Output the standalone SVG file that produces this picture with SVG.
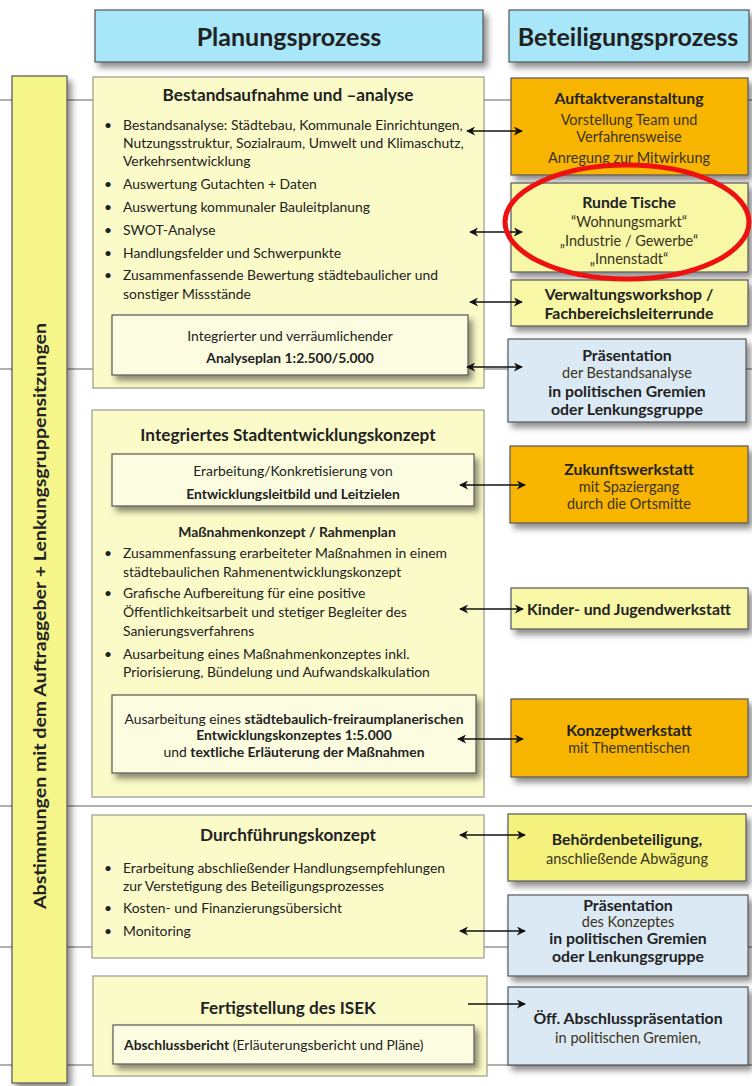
<svg xmlns="http://www.w3.org/2000/svg" width="752" height="1086" viewBox="0 0 752 1086">
<defs>
<filter id="sh" x="-10%" y="-10%" width="130%" height="140%">
<feDropShadow dx="4" dy="5" stdDeviation="3" flood-color="#000" flood-opacity="0.45"/>
</filter>
<marker id="ah" viewBox="0 0 10 10" refX="9" refY="5" markerWidth="9" markerHeight="9" markerUnits="userSpaceOnUse" orient="auto-start-reverse">
<path d="M0,0 L10,5 L0,10 L3,5 Z" fill="#111"/>
</marker>
<style>
text{font-family:Lato,"Open Sans","Liberation Sans",sans-serif;fill:#222}
.t{font-size:13.9px}
.c{text-anchor:middle}
.b{font-weight:bold}
.h{font-size:25px;font-weight:bold;text-anchor:middle}
.ti{font-size:17.2px;font-weight:bold;text-anchor:middle}
.rb{font-size:15.8px;font-weight:bold;text-anchor:middle}
.rs{font-size:14.5px;text-anchor:middle;fill:#3a3320}
.hdr{fill:#a8e6fa;stroke:#555;stroke-width:1.2}
.outer{fill:#fbfbc9;stroke:#9a9a8a;stroke-width:1.2}
.inner{fill:#fcfde0;stroke:#555;stroke-width:1.2}
.org{fill:#f8b500;stroke:#555;stroke-width:1.2}
.pyel{fill:#f7f7a6;stroke:#555;stroke-width:1.2}
.yel{fill:#f4f27c;stroke:#555;stroke-width:1.2}
.blu{fill:#dbe9f5;stroke:#555;stroke-width:1.2}
.gl{stroke:#b0b0b0;stroke-width:2}
.ar{stroke:#111;stroke-width:1.5;fill:none}
</style>
</defs>

<g id="guides">
<line class="gl" x1="0" y1="100" x2="752" y2="100"/>
<line class="gl" x1="0" y1="369" x2="752" y2="369"/>
<line class="gl" x1="0" y1="806" x2="752" y2="806"/>
<line class="gl" x1="0" y1="947" x2="752" y2="947"/>
<line class="gl" x1="0" y1="1065" x2="752" y2="1065"/>
</g>

<g id="hdr-planung">
<rect class="hdr" x="95" y="10" width="388" height="52" filter="url(#sh)"/>
<text class="h" x="289" y="46">Planungsprozess</text>
</g>
<g id="hdr-beteiligung">
<rect class="hdr" x="509" y="10" width="240" height="52" filter="url(#sh)"/>
<text class="h" x="628" y="46">Beteiligungsprozess</text>
</g>

<g id="left-bar">
<rect x="12" y="76" width="55" height="1007" fill="#f5f58a" stroke="#555" stroke-width="1.2" filter="url(#sh)"/>
<text transform="translate(46,616) rotate(-90)" text-anchor="middle" font-size="17" font-weight="bold" textLength="586" lengthAdjust="spacingAndGlyphs">Abstimmungen mit dem Auftraggeber + Lenkungsgruppensitzungen</text>
</g>

<g id="bestand">
<rect class="outer" x="93" y="77" width="391" height="311"/>
<text class="ti" x="288" y="101">Bestandsaufnahme und –analyse</text>
<g class="t">
<text x="104" y="130">•</text><text x="123" y="130">Bestandsanalyse: Städtebau, Kommunale Einrichtungen,</text>
<text x="123" y="148">Nutzungsstruktur, Sozialraum, Umwelt und Klimaschutz,</text>
<text x="123" y="166">Verkehrsentwicklung</text>
<text x="104" y="189">•</text><text x="123" y="189">Auswertung Gutachten + Daten</text>
<text x="104" y="212">•</text><text x="123" y="212">Auswertung kommunaler Bauleitplanung</text>
<text x="104" y="235">•</text><text x="123" y="235">SWOT-Analyse</text>
<text x="104" y="258">•</text><text x="123" y="258">Handlungsfelder und Schwerpunkte</text>
<text x="104" y="280">•</text><text x="123" y="280">Zusammenfassende Bewertung städtebaulicher und</text>
<text x="123" y="299">sonstiger Missstände</text>
</g>
</g>
<g id="analyseplan">
<rect class="inner" x="112" y="315" width="356" height="60" filter="url(#sh)"/>
<text class="t c" x="290" y="341">Integrierter und verräumlichender</text>
<text class="t c b" x="290" y="363">Analyseplan 1:2.500/5.000</text>
</g>

<g id="isek">
<rect class="outer" x="92" y="410" width="392" height="387"/>
<text class="ti" x="288" y="441">Integriertes Stadtentwicklungskonzept</text>
<text class="t c b" x="287" y="537">Maßnahmenkonzept / Rahmenplan</text>
<g class="t">
<text x="104" y="558">•</text><text x="123" y="558">Zusammenfassung erarbeiteter Maßnahmen in einem</text>
<text x="123" y="577">städtebaulichen Rahmenentwicklungskonzept</text>
<text x="104" y="598">•</text><text x="123" y="598">Grafische Aufbereitung für eine positive</text>
<text x="123" y="617">Öffentlichkeitsarbeit und stetiger Begleiter des</text>
<text x="123" y="636">Sanierungsverfahrens</text>
<text x="104" y="659">•</text><text x="123" y="659">Ausarbeitung eines Maßnahmenkonzeptes inkl.</text>
<text x="123" y="677">Priorisierung, Bündelung und Aufwandskalkulation</text>
</g>
</g>
<g id="leitbild">
<rect class="inner" x="112" y="454" width="362" height="52" filter="url(#sh)"/>
<text class="t c" x="293" y="476">Erarbeitung/Konkretisierung von</text>
<text class="t c b" x="293" y="499">Entwicklungsleitbild und Leitzielen</text>
</g>
<g id="entwicklungskonzept">
<rect class="inner" x="112" y="695" width="364" height="78" filter="url(#sh)"/>
<text class="t c" x="294" y="724">Ausarbeitung eines <tspan class="b">städtebaulich-freiraumplanerischen</tspan></text>
<text class="t c b" x="294" y="740">Entwicklungskonzeptes 1:5.000</text>
<text class="t c" x="294" y="757">und <tspan class="b">textliche Erläuterung der Maßnahmen</tspan></text>
</g>

<g id="durchfuehrung">
<rect class="outer" x="92" y="815" width="392" height="143"/>
<text class="ti" x="288" y="841">Durchführungskonzept</text>
<g class="t">
<text x="104" y="873">•</text><text x="123" y="873">Erarbeitung abschließender Handlungsempfehlungen</text>
<text x="123" y="891">zur Verstetigung des Beteiligungsprozesses</text>
<text x="104" y="913">•</text><text x="123" y="913">Kosten- und Finanzierungsübersicht</text>
<text x="104" y="936">•</text><text x="123" y="936">Monitoring</text>
</g>
</g>

<g id="fertigstellung">
<rect class="outer" x="93" y="976" width="394" height="100"/>
<text class="ti" x="288" y="1014" font-size="19">Fertigstellung des ISEK</text>
</g>
<g id="abschlussbericht">
<rect class="inner" x="113" y="1025" width="361" height="39" filter="url(#sh)"/>
<text class="t" x="124" y="1050"><tspan class="b">Abschlussbericht</tspan> (Erläuterungsbericht und Pläne)</text>
</g>

<g id="auftakt">
<rect class="org" x="511" y="78" width="237" height="97" filter="url(#sh)"/>
<text class="rb" x="629" y="104">Auftaktveranstaltung</text>
<text class="rs" x="629" y="125">Vorstellung Team und</text>
<text class="rs" x="629" y="142">Verfahrensweise</text>
<text class="rs" x="629" y="163">Anregung zur Mitwirkung</text>
</g>
<g id="runde-tische">
<rect class="pyel" x="511" y="183" width="237" height="89" filter="url(#sh)"/>
<text class="rb" x="629" y="208">Runde Tische</text>
<text class="rs" x="629" y="227" font-size="13.2">“Wohnungsmarkt“</text>
<text class="rs" x="629" y="246" font-size="13.2">„Industrie / Gewerbe“</text>
<text class="rs" x="629" y="264" font-size="13.2">„Innenstadt“</text>
</g>
<g id="verwaltung">
<rect class="pyel" x="511" y="280" width="237" height="46" filter="url(#sh)"/>
<text class="rb" x="629" y="300">Verwaltungsworkshop /</text>
<text class="rb" x="629" y="319">Fachbereichsleiterrunde</text>
</g>
<g id="praes1">
<rect class="blu" x="508" y="339" width="238" height="83" filter="url(#sh)"/>
<text class="rb" x="627" y="361">Präsentation</text>
<text class="rs" x="627" y="378" font-size="14">der Bestandsanalyse</text>
<text class="rb" x="627" y="397">in politischen Gremien</text>
<text class="rb" x="627" y="415">oder Lenkungsgruppe</text>
</g>
<g id="zukunft">
<rect class="org" x="510" y="446" width="238" height="77" filter="url(#sh)"/>
<text class="rb" x="629" y="475">Zukunftswerkstatt</text>
<text class="rs" x="629" y="492">mit Spaziergang</text>
<text class="rs" x="629" y="509">durch die Ortsmitte</text>
</g>
<g id="kinder">
<rect class="pyel" x="511" y="588" width="237" height="41" filter="url(#sh)"/>
<text class="rb" x="629" y="615">Kinder- und Jugendwerkstatt</text>
</g>
<g id="konzeptwerkstatt">
<rect class="org" x="511" y="699" width="237" height="78" filter="url(#sh)"/>
<text class="rb" x="629" y="736">Konzeptwerkstatt</text>
<text class="rs" x="629" y="753" font-size="14">mit Thementischen</text>
</g>
<g id="behoerden">
<rect class="yel" x="508" y="814" width="238" height="67" filter="url(#sh)"/>
<text class="rb" x="627" y="845" font-size="16">Behördenbeteiligung,</text>
<text class="rs" x="627" y="864" font-size="16.3">anschließende Abwägung</text>
</g>
<g id="praes2">
<rect class="blu" x="508" y="895" width="240" height="81" filter="url(#sh)"/>
<text class="rb" x="628" y="911" font-size="14.5">Präsentation</text>
<text class="rs" x="628" y="927" font-size="12">des Konzeptes</text>
<text class="rb" x="628" y="944" font-size="14">in politischen Gremien</text>
<text class="rb" x="628" y="962" font-size="14">oder Lenkungsgruppe</text>
</g>
<g id="abschlusspraes">
<rect class="blu" x="508" y="987" width="240" height="78" filter="url(#sh)"/>
<text class="rb" x="628" y="1024">Öff. Abschlusspräsentation</text>
<text class="rs" x="628" y="1043" font-size="16">in politischen Gremien,</text>
</g>

<g id="connectors">
<line class="ar" x1="467" y1="131" x2="522" y2="131" marker-start="url(#ah)" marker-end="url(#ah)"/>
<line class="ar" x1="470" y1="232" x2="522" y2="232" marker-start="url(#ah)" marker-end="url(#ah)"/>
<line class="ar" x1="470" y1="302" x2="522" y2="302" marker-start="url(#ah)" marker-end="url(#ah)"/>
<line class="ar" x1="467" y1="367" x2="522" y2="367" marker-start="url(#ah)" marker-end="url(#ah)"/>
<line class="ar" x1="460" y1="485" x2="525" y2="485" marker-start="url(#ah)" marker-end="url(#ah)"/>
<line class="ar" x1="460" y1="609" x2="523" y2="609" marker-start="url(#ah)" marker-end="url(#ah)"/>
<line class="ar" x1="458" y1="739" x2="523" y2="739" marker-start="url(#ah)" marker-end="url(#ah)"/>
<line class="ar" x1="460" y1="835" x2="525" y2="835" marker-start="url(#ah)" marker-end="url(#ah)"/>
<line class="ar" x1="460" y1="931" x2="525" y2="931" marker-start="url(#ah)" marker-end="url(#ah)"/>
<line class="ar" x1="468" y1="1004" x2="525" y2="1004" marker-end="url(#ah)"/>
</g>

<g id="highlight">
<ellipse cx="627" cy="222" rx="122" ry="57" fill="none" stroke="#ee1111" stroke-width="5"/>
</g>
</svg>
